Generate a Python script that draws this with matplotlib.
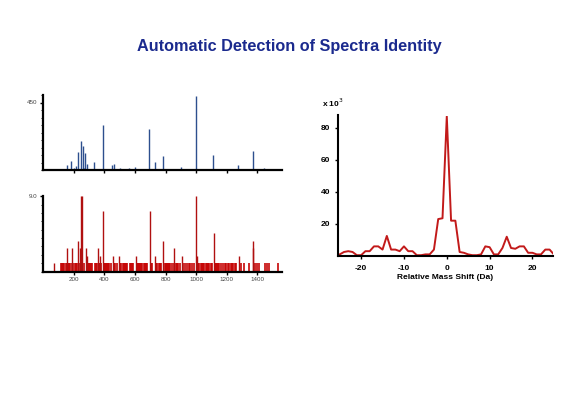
import matplotlib
matplotlib.use("Agg")
import matplotlib.pyplot as plt
from matplotlib.ticker import MultipleLocator

plt.rcParams['font.family'] = ['Liberation Sans', 'DejaVu Sans']
plt.rcParams['axes.unicode_minus'] = False

# ---- data ----
title = "Automatic Detection of Spectra Identity"

# top spectrum (blue): m/z and intensity
top_mz = [155, 185, 213, 230, 247, 260, 276, 284, 330, 390, 453, 461, 505, 559, 602,
          695, 730, 786, 900, 1000, 1108, 1272, 1369, 1443,
          140, 170, 200, 240, 268, 300, 350, 420, 480, 530, 580, 640, 660, 750, 820,
          850, 950, 1050, 1150, 1200, 1300, 1400]
top_int = [33, 59, 26, 120, 196, 157, 115, 39, 54, 298, 33, 39, 15, 11, 22,
           272, 54, 91, 17, 495, 98, 33, 130, 15,
           8, 10, 12, 9, 14, 8, 6, 7, 6, 8, 7, 6, 5, 6, 5,
           5, 6, 4, 5, 4, 4, 5]

# bottom spectrum (red): tall peaks
bot_mz = [72, 155, 187, 230, 241, 248, 257, 278, 284, 360, 375, 392, 457, 498, 607,
          698, 732, 786, 856, 906, 998, 1002, 1115, 1277, 1370, 1373]
bot_int = [1.0, 2.8, 2.8, 3.6, 2.8, 9.0, 9.0, 2.8, 1.8, 2.8, 1.9, 7.2, 1.9, 1.9, 1.9,
           7.2, 1.9, 3.6, 2.8, 1.9, 9.0, 1.9, 4.6, 1.9, 3.6, 2.8]
# bottom spectrum: low-level band of peaks
band_mz = [118, 126, 133, 140, 147, 158, 164, 171, 178, 192, 199, 206, 213, 220, 234,
           266, 286, 293, 300, 307, 314, 321, 338, 345, 352, 366, 373, 380, 399, 406,
           413, 420, 427, 434, 441, 466, 473, 480, 505, 512, 519, 526, 533, 540, 547,
           566, 573, 580, 587, 614, 621, 628, 635, 642, 649, 656, 663, 670, 677, 705,
           712, 740, 747, 754, 761, 768, 795, 802, 809, 816, 823, 830, 845, 852, 865,
           872, 879, 892, 912, 925, 938, 950, 962, 970, 985, 1012, 1020, 1030, 1040,
           1047, 1054, 1061, 1068, 1075, 1082, 1096, 1103, 1124, 1131, 1138, 1145,
           1152, 1160, 1175, 1185, 1195, 1205, 1212, 1225, 1232, 1240, 1255, 1262,
           1290, 1309, 1343, 1381, 1400, 1413, 1452, 1465, 1478, 1532]
band_int = [1.0] * len(band_mz)

# mass shift histogram (x 10^3)
shift = list(range(-25, 26))
counts = [1, 2.5, 3, 2.5, 0.5, 0.5, 3, 3, 6, 6, 4, 12.5, 4, 4, 3, 6, 3, 3, 0.5, 0.5,
          1, 1, 4, 23, 23.5,
          87,
          22, 22, 2.5, 2, 1, 0.5, 0.5, 1, 6, 5.5, 1, 1, 5, 12, 5, 4.5, 6, 6, 2, 2,
          1, 1, 4, 4, 1]

# ---- figure ----
W, H = 566, 393
fig = plt.figure(figsize=(W / 100, H / 100), dpi=100)

def rect(x0, y0, x1, y1):
    return [x0 / W, 1 - y1 / H, (x1 - x0) / W, (y1 - y0) / H]

fig.text(289 / W, 1 - 47 / H, title, ha='center', va='center',
         fontsize=11.7, fontweight='bold', color='#1b2a8e')

blue = '#2d4f8e'
red = '#c40000'

def style_left(ax):
    for s in ['top', 'right']:
        ax.spines[s].set_visible(False)
    ax.spines['left'].set_linewidth(1.6)
    ax.spines['bottom'].set_linewidth(1.6)
    ax.tick_params(axis='both', which='major', length=2.5, width=1.0,
                   labelsize=4.5, pad=1.5, colors='black', labelcolor='#444444')
    ax.tick_params(axis='y', which='minor', length=1.5, width=0.6)
    ax.set_xlim(0, 1560)

# top left
ax1 = fig.add_axes(rect(43, 95, 282, 170))
ax1.vlines(top_mz, 0, top_int, color=blue, lw=1.0)
ax1.set_ylim(0, 500)
ax1.set_yticks([450])
ax1.set_yticklabels(['450'])
ax1.yaxis.set_minor_locator(MultipleLocator(50))
ax1.set_xticks([200, 400, 600, 800, 1000, 1200, 1400])
ax1.set_xticklabels([])
style_left(ax1)

# bottom left
ax2 = fig.add_axes(rect(43, 196, 282, 271.5))
ax2.vlines(band_mz, 0, band_int, color=red, lw=1.3, alpha=0.9)
ax2.vlines(bot_mz, 0, bot_int, color='#b01010', lw=1.0)
ax2.set_ylim(0, 9.05)
ax2.set_yticks([9.0])
ax2.set_yticklabels(['9.0'])
ax2.yaxis.set_minor_locator(MultipleLocator(1.0))
ax2.set_xticks([200, 400, 600, 800, 1000, 1200, 1400])
style_left(ax2)

# right: mass shift
ax3 = fig.add_axes(rect(338, 115.5, 553, 256))
ax3.plot(shift, counts, color='#c21a1a', lw=1.4)
ax3.set_xlim(-25.4, 24.8)
ax3.set_ylim(0, 87.5)
ax3.set_yticks([20, 40, 60, 80])
ax3.set_xticks([-20, -10, 0, 10, 20])
for s in ['top', 'right']:
    ax3.spines[s].set_visible(False)
ax3.spines['left'].set_linewidth(1.5)
ax3.spines['bottom'].set_linewidth(1.5)
ax3.tick_params(axis='x', length=2.5, width=1.0, labelsize=6, pad=4)
ax3.tick_params(axis='y', length=2.5, width=1.0, labelsize=6, pad=3)
for lab in ax3.get_xticklabels() + ax3.get_yticklabels():
    lab.set_fontweight('bold')
ax3.set_xlabel('Relative Mass Shift (Da)', fontsize=6, fontweight='bold', labelpad=1.5)
fig.text(322 / W, 1 - 103 / H, r'x 10$^3$', fontsize=6, fontweight='bold',
         ha='left', va='center')

fig.savefig('out.png', dpi=100)
